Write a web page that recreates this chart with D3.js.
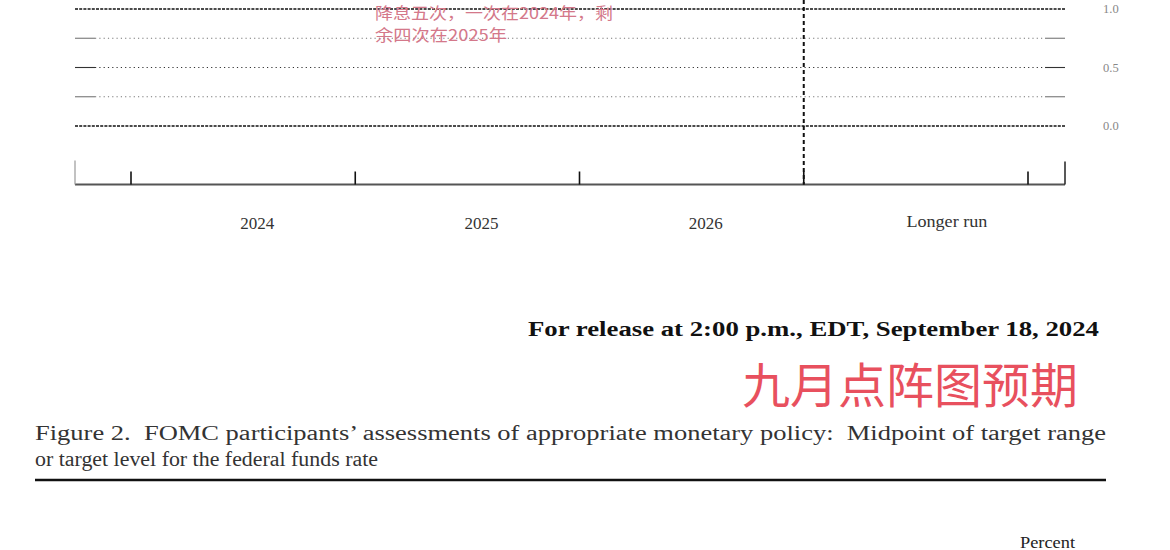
<!DOCTYPE html>
<html><head><meta charset="utf-8">
<script src="https://cdn.jsdelivr.net/npm/d3@7"></script>
<style>
html,body{margin:0;padding:0;background:#fff;}
svg{display:block;}
</style></head>
<body>
<svg id="chart" width="1170" height="550"></svg>
<script>
// ---- data ----
const categories = ["2024", "2025", "2026", "Longer run"];
const gridLevels = [0, 0.25, 0.5, 0.75, 1.0];
const majorLevels = [0, 1.0];
const yTickLabels = ["0.0", "0.5", "1.0"];
const yTickValues = [0, 0.5, 1.0];
const dots = []; // no participant dots fall in the visible 0–1% range
const annotationLines = ["降息五次，一次在2024年，剩", "余四次在2025年"];
const releaseText = "For release at 2:00 p.m., EDT, September 18, 2024";
const redTitle = "九月点阵图预期";
const captionLines = ["Figure 2.  FOMC participants’ assessments of appropriate monetary policy:  Midpoint of target range",
                      "or target level for the federal funds rate"];
const unitLabel = "Percent";

// ---- layout ----
const svg = d3.select("#chart");
const left = 75, right = 1065;
const y = d3.scaleLinear().domain([0, 1]).range([126, 9]);
const x = d3.scaleBand().domain(categories).range([131, 1028]).paddingInner(0).paddingOuter(0);
const axisY = y(-0.5);

const serif = "'Liberation Serif', 'DejaVu Serif', serif";

// gridlines
const g = svg.append("g");
gridLevels.forEach(v => {
  const major = majorLevels.includes(v);
  const mid = v === 0.5;
  if (major) {
    g.append("line").attr("x1", left).attr("x2", right).attr("y1", y(v)).attr("y2", y(v))
      .attr("stroke", "#111").attr("stroke-width", 1.4).attr("stroke-dasharray", "3,1.2");
  } else {
    const col = mid ? "#333" : "#777";
    g.append("line").attr("x1", left + 20).attr("x2", right - 20).attr("y1", y(v)).attr("y2", y(v))
      .attr("stroke", col).attr("stroke-width", 1.1).attr("stroke-dasharray", "1.2,3.1");
    [[left, left + 20], [right - 20, right]].forEach(([a, b]) => {
      g.append("line").attr("x1", a).attr("x2", b).attr("y1", y(v)).attr("y2", y(v))
        .attr("stroke", col).attr("stroke-width", 1.1);
    });
  }
});

// right tick labels
svg.append("g").selectAll("text").data(yTickValues).join("text")
  .attr("x", 1103).attr("y", d => y(d) + 4)
  .attr("font-family", serif).attr("font-size", 12.5).attr("fill", "#888")
  .text((d, i) => yTickLabels[i]);

// x axis line
svg.append("line").attr("x1", left).attr("x2", right).attr("y1", axisY).attr("y2", axisY)
  .attr("stroke", "#555").attr("stroke-width", 1.8);
// outer edges
svg.append("line").attr("x1", left).attr("x2", left).attr("y1", axisY).attr("y2", axisY - 24)
  .attr("stroke", "#999").attr("stroke-width", 1.2);
svg.append("line").attr("x1", right).attr("x2", right).attr("y1", axisY).attr("y2", axisY - 23)
  .attr("stroke", "#222").attr("stroke-width", 1.5);
// category boundary ticks
const bounds = categories.map(c => x(c)).concat([x(categories[categories.length - 1]) + x.bandwidth()]);
svg.append("g").selectAll("line").data(bounds).join("line")
  .attr("x1", d => d).attr("x2", d => d).attr("y1", axisY).attr("y2", axisY - 13)
  .attr("stroke", "#111").attr("stroke-width", 1.6);

// dashed separator before longer run
const sep = x("Longer run");
svg.append("line").attr("x1", sep).attr("x2", sep).attr("y1", 0).attr("y2", axisY)
  .attr("stroke", "#111").attr("stroke-width", 2).attr("stroke-dasharray", "4,3");

// dots (none visible)
svg.append("g").selectAll("circle").data(dots).join("circle")
  .attr("cx", d => x(d.cat) + x.bandwidth() / 2).attr("cy", d => y(d.v)).attr("r", 4);

// category labels
svg.append("g").selectAll("text").data(categories).join("text")
  .attr("x", d => x(d) + x.bandwidth() / 2 + (d === "Longer run" ? 31 : 14))
  .attr("y", d => d === "Longer run" ? 227 : 229)
  .attr("text-anchor", "middle")
  .attr("font-family", serif).attr("font-size", 16.5).attr("fill", "#333")
  .each(function(d){ d3.select(this).attr("textLength", d === "Longer run" ? 81 : 34).attr("lengthAdjust", "spacingAndGlyphs"); })
  .text(d => d);

// annotation
svg.append("g").selectAll("text").data(annotationLines).join("text")
  .attr("x", 375).attr("y", (d, i) => 19 + i * 22)
  .attr("font-family", "'Noto Sans CJK SC', sans-serif").attr("font-size", 16)
  .attr("fill", "#d4788a")
  .each(function(d, i){ d3.select(this).attr("textLength", i === 0 ? 238 : 132).attr("lengthAdjust", "spacingAndGlyphs"); })
  .text(d => d);

// release line
svg.append("text").attr("x", 1099).attr("y", 336).attr("text-anchor", "end")
  .attr("font-family", serif).attr("font-weight", "bold").attr("font-size", 20)
  .attr("fill", "#111").attr("textLength", 571).attr("lengthAdjust", "spacingAndGlyphs")
  .text(releaseText);

// red title
svg.append("text").attr("x", 1078).attr("y", 403).attr("text-anchor", "end")
  .attr("font-family", "'Noto Sans CJK SC', sans-serif").attr("font-size", 48)
  .attr("fill", "#e8505e").text(redTitle);

// caption
svg.append("g").selectAll("text").data(captionLines).join("text")
  .attr("x", 35).attr("y", (d, i) => 440 + i * 26)
  .attr("font-family", serif).attr("font-size", 20.5).attr("fill", "#333")
  .attr("xml:space", "preserve")
  .each(function(d, i){ d3.select(this).attr("textLength", i === 0 ? 1071 : 343).attr("lengthAdjust", "spacingAndGlyphs"); })
  .text(d => d);

svg.append("line").attr("x1", 35).attr("x2", 1106).attr("y1", 480).attr("y2", 480)
  .attr("stroke", "#111").attr("stroke-width", 2.5);

svg.append("text").attr("x", 1075).attr("y", 548).attr("text-anchor", "end")
  .attr("font-family", serif).attr("font-size", 16).attr("fill", "#222")
  .attr("textLength", 55).attr("lengthAdjust", "spacingAndGlyphs").text(unitLabel);
</script>
</body></html>
